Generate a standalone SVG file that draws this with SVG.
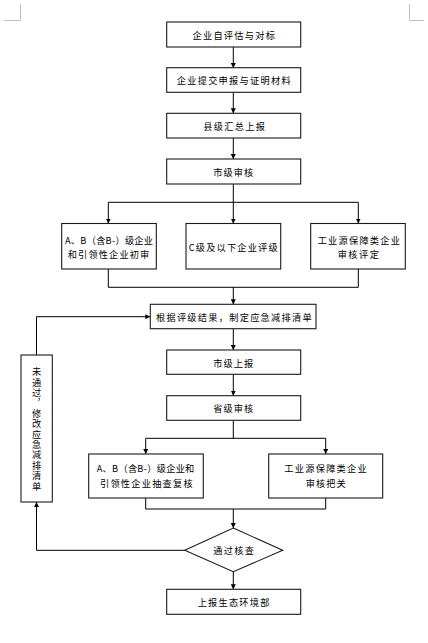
<svg xmlns="http://www.w3.org/2000/svg" width="428" height="643" viewBox="0 0 428 643">
<style>
.box{fill:#fff;stroke:#1a1a1a;stroke-width:1.1}
.t{font-family:"Noto Sans CJK SC","Noto Sans",sans-serif;font-size:9.2px;fill:#000;text-anchor:middle;dominant-baseline:central}
.v{writing-mode:vertical-rl;letter-spacing:1.2px}
.c{fill:none;stroke:#000;stroke-width:1}
.crop{fill:none;stroke:#bfbfbf;stroke-width:1}
</style>
<defs>
<marker id="ah" viewBox="0 0 6 6" refX="6" refY="3" markerWidth="5" markerHeight="5" orient="auto" markerUnits="userSpaceOnUse">
<path d="M0,0 L6,3 L0,6 Z" fill="#000"/>
</marker>
</defs>
<rect width="428" height="643" fill="#fff"/>
<g id="crop-marks">
<path class="crop" d="M20.5,4 V20.5 H4"/>
<path class="crop" d="M409.5,4 V20.5 H424"/>
</g>
<g id="connectors">
<line class="c" x1="233.3" y1="47" x2="233.3" y2="68" marker-end="url(#ah)"/>
<line class="c" x1="233.3" y1="92.3" x2="233.3" y2="113.3" marker-end="url(#ah)"/>
<line class="c" x1="233.3" y1="138" x2="233.3" y2="159" marker-end="url(#ah)"/>
<path class="c" d="M233.3,184 V202.3 M108.3,202.3 H358.3"/>
<line class="c" x1="108.3" y1="202.3" x2="108.3" y2="223.5" marker-end="url(#ah)"/>
<line class="c" x1="233.3" y1="202.3" x2="233.3" y2="223.5" marker-end="url(#ah)"/>
<line class="c" x1="358.3" y1="202.3" x2="358.3" y2="223.5" marker-end="url(#ah)"/>
<path class="c" d="M108.3,269 V287.3 H358.3 V269"/>
<line class="c" x1="233.3" y1="287.3" x2="233.3" y2="304.3" marker-end="url(#ah)"/>
<line class="c" x1="233.3" y1="328.7" x2="233.3" y2="350" marker-end="url(#ah)"/>
<line class="c" x1="233.3" y1="374.3" x2="233.3" y2="395.7" marker-end="url(#ah)"/>
<path class="c" d="M233.3,420.3 V438.3 M145.7,438.3 H325.7"/>
<line class="c" x1="145.7" y1="438.3" x2="145.7" y2="454" marker-end="url(#ah)"/>
<line class="c" x1="325.7" y1="438.3" x2="325.7" y2="454" marker-end="url(#ah)"/>
<path class="c" d="M145.7,498 V509 H325.7 V498"/>
<line class="c" x1="233.3" y1="509" x2="233.3" y2="528" marker-end="url(#ah)"/>
<line class="c" x1="233.3" y1="571.7" x2="233.3" y2="589.3" marker-end="url(#ah)"/>
<polyline class="c" points="184.7,550.3 36.5,550.3 36.5,502" marker-end="url(#ah)"/>
<polyline class="c" points="36.5,355 36.5,316.7 150.3,316.7" marker-end="url(#ah)"/>
</g>
<g id="n1"><rect class="box" x="166.7" y="22" width="134" height="25"/><text class="t" x="233.7" y="34.5" textLength="82.6" lengthAdjust="spacing">企业自评估与对标</text></g>
<g id="n2"><rect class="box" x="166.7" y="67.7" width="134" height="24.6"/><text class="t" x="233.7" y="80" textLength="114" lengthAdjust="spacing">企业提交申报与证明材料</text></g>
<g id="n3"><rect class="box" x="166.7" y="113.3" width="134" height="24.7"/><text class="t" x="234.2" y="125.7" textLength="61.7" lengthAdjust="spacing">县级汇总上报</text></g>
<g id="n4"><rect class="box" x="166.7" y="159" width="134" height="25"/><text class="t" x="233.3" y="171.5" textLength="40" lengthAdjust="spacing">市级审核</text></g>
<g id="n5"><rect class="box" x="61.7" y="223.5" width="94.6" height="45.5"/>
<text class="t" x="109" y="240.2" textLength="88" lengthAdjust="spacing">A、B（含B-）级企业</text>
<text class="t" x="108.5" y="253.7" textLength="81.6" lengthAdjust="spacing">和引领性企业初审</text></g>
<g id="n6"><rect class="box" x="186" y="223.5" width="94.7" height="45.5"/><text class="t" x="233.2" y="246.7" textLength="89" lengthAdjust="spacing">C级及以下企业评级</text></g>
<g id="n7"><rect class="box" x="310.7" y="223.5" width="94.6" height="45.5"/>
<text class="t" x="358.8" y="240.2" textLength="82.3" lengthAdjust="spacing">工业源保障类企业</text>
<text class="t" x="358.3" y="253.7" textLength="41.3" lengthAdjust="spacing">审核评定</text></g>
<g id="n8"><rect class="box" x="150.3" y="304.3" width="165.7" height="24.4"/><text class="t" x="233.8" y="316.7" textLength="155.7" lengthAdjust="spacing">根据评级结果，制定应急减排清单</text></g>
<g id="n9"><rect class="box" x="166.7" y="350" width="134" height="24.3"/><text class="t" x="233.3" y="362.5" textLength="40" lengthAdjust="spacing">市级上报</text></g>
<g id="n10"><rect class="box" x="166.7" y="395.7" width="134" height="24.6"/><text class="t" x="233.3" y="408" textLength="40" lengthAdjust="spacing">省级审核</text></g>
<g id="n11"><rect class="box" x="88.7" y="454" width="114.6" height="44"/>
<text class="t" x="145.5" y="468.3" textLength="97.6" lengthAdjust="spacing">A、B（含B-）级企业和</text>
<text class="t" x="146.3" y="482.7" textLength="92.7" lengthAdjust="spacing">引领性企业抽查复核</text></g>
<g id="n12"><rect class="box" x="268.7" y="454" width="114" height="44"/>
<text class="t" x="325.5" y="468.3" textLength="82.3" lengthAdjust="spacing">工业源保障类企业</text>
<text class="t" x="325.7" y="482.7" textLength="40" lengthAdjust="spacing">审核把关</text></g>
<g id="n13"><polygon class="box" points="233.3,528 282.7,550.3 233.3,571.7 184.7,550.3"/><text class="t" x="233.6" y="550.3" textLength="40.7" lengthAdjust="spacing">通过核查</text></g>
<g id="n14"><rect class="box" x="166.7" y="589.3" width="134" height="25"/><text class="t" x="233.5" y="601.7" textLength="71.7" lengthAdjust="spacing">上报生态环境部</text></g>
<g id="n15"><rect class="box" x="21" y="355" width="31.3" height="147"/>
<text class="t v" x="36.7" y="429.5">未通过，修改应急减排清单</text></g>
</svg>
